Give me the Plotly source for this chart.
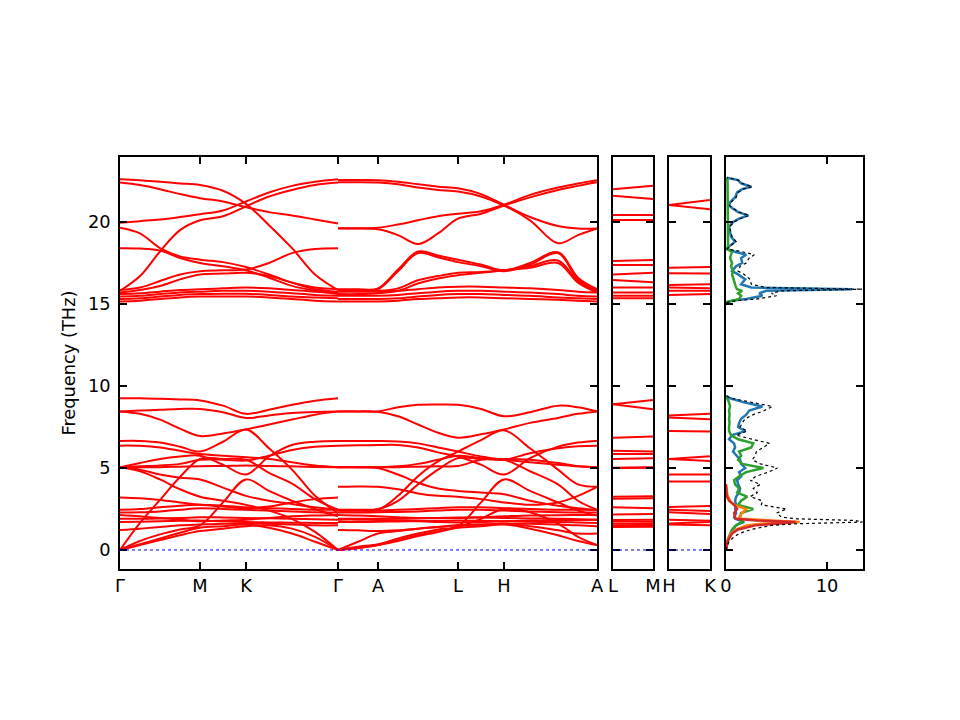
import plotly.graph_objects as go

# k-path nodes (distance along path)
k_gmkg = [0, 20, 40, 60, 80, 103, 126, 149, 172, 195, 218]
k_galha = [218, 238, 258, 278, 298, 318, 338, 361, 384, 410, 438, 458, 477]
k_lm = [0, 40]
k_hk = [0, 41]

main_ticks = [0, 80, 126, 218, 258, 338, 384, 477]
main_labels = ["Γ", "M", "K", "Γ", "A", "L", "H", "A"]

# bands along Γ-M-K-Γ (THz)
bands_gmkg = [
    [22.6, 22.55, 22.45, 22.35, 22.25, 21.9, 21.1, 19.8, 18.4, 16.8, 15.85],
    [22.4, 22.25, 22.0, 21.7, 21.45, 21.25, 20.9, 20.6, 20.4, 20.15, 19.9],
    [19.95, 20.05, 20.15, 20.3, 20.47, 20.7, 21.25, 21.8, 22.2, 22.45, 22.6],
    [19.65, 19.3, 18.4, 17.9, 17.7, 17.55, 17.25, 16.8, 16.3, 15.9, 15.75],
    [15.8, 16.7, 18.2, 19.5, 20.1, 20.35, 20.95, 21.55, 21.95, 22.25, 22.4],
    [18.4, 18.38, 18.25, 17.8, 17.5, 17.3, 17.05, 16.6, 16.1, 15.8, 15.6],
    [15.85, 16.0, 16.4, 16.8, 17.0, 17.05, 17.1, 17.5, 18.1, 18.35, 18.4],
    [15.7, 15.85, 16.1, 16.5, 16.8, 16.85, 16.9, 16.7, 16.3, 16.0, 15.9],
    [15.6, 15.65, 15.75, 15.85, 15.9, 15.95, 16.0, 15.95, 15.85, 15.75, 15.7],
    [15.45, 15.5, 15.6, 15.7, 15.75, 15.8, 15.8, 15.75, 15.65, 15.55, 15.5],
    [15.3, 15.35, 15.45, 15.55, 15.6, 15.62, 15.62, 15.55, 15.45, 15.4, 15.35],
    [15.15, 15.2, 15.3, 15.4, 15.45, 15.45, 15.45, 15.4, 15.3, 15.2, 15.15],
    [9.25, 9.25, 9.22, 9.18, 9.12, 8.8, 8.3, 8.55, 8.85, 9.1, 9.25],
    [8.45, 8.5, 8.55, 8.6, 8.6, 8.4, 8.05, 8.2, 8.35, 8.42, 8.45],
    [8.45, 8.3, 7.95, 7.4, 6.95, 7.1, 7.35, 7.65, 7.95, 8.25, 8.45],
    [6.65, 6.65, 6.55, 6.3, 6.0, 6.6, 7.35, 6.2, 4.9, 3.3, 2.25],
    [6.36, 6.35, 6.25, 6.05, 5.85, 5.75, 5.65, 5.55, 5.35, 5.15, 5.05],
    [5.05, 5.3, 5.55, 5.7, 5.75, 5.2, 4.6, 5.7, 6.4, 6.6, 6.65],
    [5.05, 5.1, 5.15, 5.25, 5.5, 5.5, 5.45, 5.75, 6.1, 6.3, 6.36],
    [5.05, 5.05, 5.05, 5.08, 5.1, 5.12, 5.15, 5.12, 5.1, 5.06, 5.04],
    [0.0, 1.65, 3.05, 4.45, 5.55, 5.55, 5.5, 4.7, 4.05, 3.1, 2.45],
    [0.0, 0.55, 0.95, 1.25, 1.5, 2.9, 4.3, 3.6, 3.0, 2.5, 2.05],
    [0.0, 0.35, 0.7, 1.05, 1.35, 1.45, 1.55, 1.35, 1.0, 0.5, 0.0],
    [0.0, 0.3, 0.6, 0.9, 1.15, 1.3, 1.45, 1.5, 1.3, 0.8, 0.0],
    [5.05, 4.8, 4.3, 3.7, 3.25, 3.0, 2.75, 2.4, 1.9, 1.1, 0.0],
    [3.2, 3.15, 3.05, 2.9, 2.75, 2.65, 2.55, 2.65, 2.9, 3.1, 3.2],
    [2.45, 2.5, 2.6, 2.7, 2.75, 2.7, 2.6, 2.55, 2.5, 2.45, 2.45],
    [2.28, 2.3, 2.35, 2.45, 2.55, 2.5, 2.45, 2.4, 2.35, 2.3, 2.28],
    [2.13, 2.05, 1.95, 1.85, 1.75, 1.8, 1.85, 1.95, 2.05, 2.1, 2.13],
    [1.9, 1.9, 1.92, 1.95, 2.0, 1.98, 1.95, 1.93, 1.9, 1.88, 1.85],
    [1.7, 1.72, 1.75, 1.78, 1.8, 1.75, 1.7, 1.68, 1.66, 1.65, 1.65],
    [1.22, 1.3, 1.4, 1.5, 1.55, 1.6, 1.62, 1.6, 1.55, 1.5, 1.5],
    [5.05, 4.9, 4.6, 4.4, 4.3, 3.8, 3.3, 3.0, 2.8, 2.6, 2.45],
]

# bands along Γ-A-L-H-A
bands_galha = [
    [22.56, 22.56, 22.55, 22.45, 22.3, 22.15, 22.05, 21.7, 21.05, 20.3, 19.75, 19.6, 19.6],
    [22.42, 22.42, 22.4, 22.3, 22.1, 21.95, 21.85, 21.55, 21.0, 20.1, 18.7, 19.2, 19.6],
    [19.62, 19.62, 19.65, 19.85, 20.1, 20.35, 20.5, 20.65, 21.05, 21.65, 22.1, 22.35, 22.55],
    [19.6, 19.6, 19.55, 19.2, 18.65, 19.3, 20.2, 20.5, 21.0, 21.5, 21.95, 22.2, 22.42],
    [15.9, 15.9, 15.95, 17.1, 18.2, 17.95, 17.7, 17.4, 17.05, 17.5, 18.15, 16.6, 15.9],
    [15.85, 15.85, 15.9, 17.0, 18.1, 17.85, 17.55, 17.3, 17.0, 17.4, 18.1, 16.5, 15.85],
    [15.8, 15.8, 15.8, 15.95, 16.45, 16.7, 16.9, 16.95, 17.05, 17.3, 17.65, 16.4, 15.75],
    [15.6, 15.6, 15.65, 15.8, 16.25, 16.55, 16.75, 16.9, 17.05, 17.2, 17.5, 16.3, 15.7],
    [15.75, 15.75, 15.75, 15.8, 15.9, 16.0, 16.05, 16.05, 16.0, 15.95, 15.85, 15.75, 15.7],
    [15.5, 15.5, 15.5, 15.55, 15.65, 15.75, 15.8, 15.8, 15.75, 15.7, 15.6, 15.5, 15.45],
    [15.3, 15.3, 15.3, 15.35, 15.45, 15.55, 15.6, 15.6, 15.55, 15.5, 15.4, 15.35, 15.3],
    [15.15, 15.15, 15.15, 15.2, 15.3, 15.35, 15.4, 15.4, 15.35, 15.3, 15.25, 15.2, 15.15],
    [8.45, 8.45, 8.45, 8.7, 8.85, 8.87, 8.85, 8.6, 8.15, 8.4, 8.8, 8.7, 8.45],
    [8.45, 8.45, 8.43, 8.15, 7.65, 7.15, 6.85, 7.05, 7.35, 7.75, 8.05, 8.3, 8.45],
    [2.4, 2.4, 2.45, 3.3, 4.5, 5.4, 6.0, 6.7, 7.3, 6.2, 4.9, 4.0, 3.85],
    [6.65, 6.65, 6.65, 6.62, 6.5, 6.25, 6.0, 5.7, 5.5, 5.35, 5.2, 5.1, 5.05],
    [6.36, 6.38, 6.4, 6.4, 6.25, 5.95, 5.7, 5.2, 4.6, 5.6, 6.3, 6.55, 6.65],
    [5.05, 5.05, 5.05, 5.1, 5.25, 5.5, 5.75, 5.6, 5.5, 5.9, 6.2, 6.33, 6.36],
    [5.05, 5.05, 5.05, 5.05, 5.08, 5.1, 5.12, 5.5, 5.55, 5.5, 5.3, 5.1, 5.04],
    [3.85, 3.87, 3.85, 3.7, 3.45, 3.3, 3.25, 3.1, 2.9, 2.75, 2.9, 3.3, 3.85],
    [5.05, 5.05, 5.0, 4.6, 4.1, 3.75, 3.6, 3.5, 3.4, 3.0, 2.7, 2.55, 2.45],
    [0.0, 0.2, 0.35, 0.7, 1.0, 1.25, 1.45, 2.9, 4.3, 3.6, 2.9, 2.4, 2.1],
    [0.0, 0.15, 0.3, 0.6, 0.9, 1.15, 1.35, 1.45, 1.55, 1.3, 0.9, 0.55, 0.3],
    [0.0, 0.5, 1.0, 1.15, 1.3, 1.4, 1.5, 1.55, 1.6, 1.45, 1.2, 1.0, 1.0],
    [2.4, 2.4, 2.4, 2.45, 2.5, 2.55, 2.6, 2.6, 2.55, 2.5, 2.45, 2.45, 2.44],
    [2.28, 2.28, 2.3, 2.32, 2.35, 2.4, 2.45, 2.45, 2.4, 2.35, 2.3, 2.28, 2.28],
    [2.13, 2.1, 2.05, 2.0, 1.95, 1.95, 1.95, 2.0, 2.05, 2.1, 2.12, 2.13, 2.13],
    [1.9, 1.9, 1.9, 1.9, 1.92, 1.95, 1.98, 1.98, 1.95, 1.92, 1.9, 1.88, 1.85],
    [1.7, 1.7, 1.72, 1.74, 1.76, 1.78, 1.8, 1.78, 1.75, 1.72, 1.7, 1.68, 1.65],
    [1.22, 1.2, 1.15, 1.2, 1.3, 1.4, 1.5, 1.55, 1.6, 1.6, 1.55, 1.5, 1.45],
    [2.45, 2.45, 2.5, 3.0, 4.0, 4.9, 5.6, 5.55, 5.5, 4.8, 4.0, 3.0, 2.45],
    [1.85, 1.85, 1.83, 1.8, 1.75, 1.7, 1.68, 1.7, 1.75, 1.8, 1.82, 1.83, 1.85],
    [0.0, 0.1, 0.3, 0.55, 0.85, 1.1, 1.4, 1.9, 2.5, 2.3, 1.6, 0.8, 0.3],
]

# L-M and H-K segments (start, end)
bands_lm = [
    [22.0, 22.2], [21.6, 21.4], [20.43, 20.43], [20.12, 20.12], [17.62, 17.68],
    [17.38, 17.38], [16.8, 16.9], [16.46, 16.32], [16.0, 16.0], [15.7, 15.7],
    [15.5, 15.5], [15.35, 15.35],
    [8.88, 9.15], [8.88, 8.58], [6.85, 6.92], [6.05, 6.0], [5.85, 5.85],
    [5.55, 5.6], [5.02, 5.05], [5.0, 5.02], [3.25, 3.28], [3.12, 3.15],
    [2.6, 2.55], [2.17, 2.2], [1.82, 1.85], [1.75, 1.72], [1.62, 1.6],
    [1.5, 1.52], [1.4, 1.42],
]
bands_hk = [
    [21.04, 21.34], [21.04, 20.77], [17.2, 17.25], [16.87, 16.85], [16.15, 16.2],
    [16.0, 15.95], [15.8, 15.8], [15.55, 15.6],
    [8.2, 8.3], [8.08, 7.97], [7.25, 7.22], [5.55, 5.72], [5.55, 5.42],
    [4.6, 4.6], [4.18, 4.18], [2.62, 2.68], [2.45, 2.38], [2.3, 2.2],
    [1.85, 1.78], [1.62, 1.7], [1.55, 1.5],
]

# phonon DOS, lower and upper frequency windows
dos_f_low = [0.0, 0.25, 0.5, 0.75, 1.0, 1.25, 1.5, 1.6, 1.7, 1.8, 1.9, 2.0, 2.25, 2.5,
             2.75, 3.0, 3.25, 3.5, 3.75, 4.0, 4.25, 4.5, 4.75, 5.0, 5.25, 5.5, 5.75,
             6.0, 6.25, 6.5, 6.75, 7.0, 7.25, 7.5, 7.75, 8.0, 8.25, 8.5, 8.75, 9.0,
             9.25, 9.4]
dos_total_low = [0.0, 0.1, 0.3, 0.7, 1.3, 2.5, 4.5, 7.0, 13.5, 12.8, 7.0, 5.5, 5.0, 6.0,
                 3.5, 3.6, 2.4, 3.1, 2.7, 3.4, 2.4, 3.0, 4.2, 5.1, 3.4, 2.6, 2.9,
                 3.0, 3.7, 4.3, 2.6, 1.0, 2.1, 1.4, 1.6, 1.9, 2.7, 3.8, 4.6, 2.6,
                 0.5, 0.0]
dos_blue_low = [0.0, 0.05, 0.15, 0.3, 0.45, 0.7, 1.0, 1.3, 1.8, 1.4, 0.9, 0.8, 1.0, 0.9,
                1.0, 0.9, 1.0, 1.3, 1.4, 1.2, 1.1, 1.5, 1.3, 1.9, 1.5, 1.4, 1.0,
                0.7, 0.9, 0.8, 0.3, 0.6, 1.9, 1.2, 1.3, 1.5, 2.0, 2.3, 3.6, 1.8,
                0.4, 0.0]
dos_green_low = [0.0, 0.03, 0.1, 0.25, 0.4, 0.6, 1.0, 1.3, 1.6, 1.5, 1.3, 1.4, 1.5, 2.7,
                 1.2, 1.5, 2.1, 1.1, 1.3, 0.9, 0.8, 1.3, 2.0, 3.7, 1.6, 1.2, 1.5,
                 1.3, 2.5, 2.7, 1.2, 0.5, 0.3, 0.3, 0.35, 0.3, 0.35, 0.3, 0.4, 0.3,
                 0.1, 0.0]
dos_f_acoustic = [0.0, 0.25, 0.5, 0.75, 1.0, 1.25, 1.5, 1.6, 1.7, 1.8, 1.9, 2.0, 2.25,
                  2.5, 2.75, 3.0, 3.25, 3.5, 3.75, 4.0]
dos_orange_low = [0.0, 0.05, 0.15, 0.3, 0.5, 1.0, 2.0, 3.5, 7.3, 4.5, 1.5, 1.3, 1.6,
                  2.0, 0.8, 0.4, 0.2, 0.1, 0.05, 0.0]
dos_red_low = [0.0, 0.05, 0.15, 0.35, 0.6, 1.2, 2.9, 5.0, 6.9, 3.0, 1.0, 0.9, 0.8,
               1.1, 0.8, 0.3, 0.1, 0.05, 0.0, 0.0]

dos_f_high = [15.1, 15.2, 15.3, 15.5, 15.65, 15.8, 15.9, 16.0, 16.2, 16.5, 16.8, 17.0,
              17.3, 17.5, 17.8, 18.0, 18.2, 18.35, 18.5, 18.8, 19.1, 19.4, 19.7, 20.0,
              20.2, 20.4, 20.6, 20.8, 21.0, 21.2, 21.5, 21.8, 22.0, 22.15, 22.35,
              22.55, 22.7]
dos_total_high = [0.05, 1.0, 3.0, 5.0, 4.5, 5.5, 13.5, 4.0, 2.5, 2.4, 1.8, 1.2,
                  1.4, 2.0, 2.3, 2.8, 1.5, 0.1, 0.35, 1.0, 0.6, 0.45, 0.35, 0.8,
                  1.4, 2.3, 1.3, 0.8, 0.35, 0.5, 1.0, 1.2, 1.7, 2.6, 1.6,
                  1.2, 0.1]
dos_blue_high = [0.05, 0.6, 2.0, 3.6, 3.3, 4.0, 12.5, 2.5, 1.5, 1.9, 1.2, 0.6,
                 1.0, 1.6, 1.5, 2.0, 0.8, 0.1, 0.3, 0.9, 0.5, 0.4, 0.3, 0.7,
                 1.3, 2.2, 1.2, 0.7, 0.3, 0.4, 0.9, 1.1, 1.6, 2.5, 1.5,
                 1.2, 0.1]
dos_green_high = [0.05, 0.8, 1.3, 1.5, 1.2, 1.6, 1.1, 1.0, 0.9, 0.7, 0.6, 0.7,
                  0.5, 0.6, 0.4, 0.5, 0.6, 0.05, 0.2, 0.2, 0.2, 0.2, 0.2, 0.2,
                  0.2, 0.2, 0.2, 0.2, 0.2, 0.2, 0.2, 0.2, 0.2, 0.2, 0.2,
                  0.15, 0.0]

FONT = "DejaVu Sans"
FSIZE = 17.8
RED = "#ff0000"
fig = go.Figure()

for band in bands_gmkg:
    fig.add_trace(go.Scatter(x=k_gmkg, y=band, mode="lines", line=dict(color=RED, width=2, shape="spline"),
                             xaxis="x", yaxis="y"))
for band in bands_galha:
    fig.add_trace(go.Scatter(x=k_galha, y=band, mode="lines", line=dict(color=RED, width=2, shape="spline"),
                             xaxis="x", yaxis="y"))
for band in bands_lm:
    fig.add_trace(go.Scatter(x=k_lm, y=band, mode="lines", line=dict(color=RED, width=2),
                             xaxis="x2", yaxis="y2"))
for band in bands_hk:
    fig.add_trace(go.Scatter(x=k_hk, y=band, mode="lines", line=dict(color=RED, width=2),
                             xaxis="x3", yaxis="y3"))

# DOS curves
pdos = [
    (dos_f_low, dos_blue_low, "#1f77b4"),
    (dos_f_high, dos_blue_high, "#1f77b4"),
    (dos_f_low, dos_green_low, "#2ca02c"),
    (dos_f_high, dos_green_high, "#2ca02c"),
    (dos_f_acoustic, dos_orange_low, "#ff7f0e"),
    (dos_f_acoustic, dos_red_low, "#d62728"),
]
for f, d, c in pdos:
    fig.add_trace(go.Scatter(x=d, y=f, mode="lines", line=dict(color=c, width=2.5),
                             xaxis="x4", yaxis="y4"))
for f, d in [(dos_f_low, dos_total_low), (dos_f_high, dos_total_high)]:
    fig.add_trace(go.Scatter(x=d, y=f, mode="lines", line=dict(color="black", width=1.2, dash="dot"),
                             xaxis="x4", yaxis="y4"))

yrange = [-1.16, 23.96]
ydom = [151 / 720, 563 / 720]
axis_common = dict(showline=True, linecolor="black", linewidth=1.8, mirror="ticks",
                   ticks="inside", ticklen=7, tickwidth=1.8, tickcolor="black",
                   showgrid=False, zeroline=False, automargin=False,
                   tickfont=dict(family=FONT, size=FSIZE, color="black"))

def yax(show_labels):
    d = dict(axis_common, range=yrange, domain=ydom, tickvals=[0, 5, 10, 15, 20],
             showticklabels=show_labels)
    return d

layout = dict(
    width=960, height=720, margin=dict(l=0, r=0, t=0, b=0, autoexpand=False),
    paper_bgcolor="white", plot_bgcolor="white", showlegend=False,
    font=dict(family=FONT, size=FSIZE, color="black"),
    xaxis=dict(axis_common, domain=[120 / 960, 597 / 960], range=[0, 477],
               tickvals=main_ticks, ticktext=main_labels, anchor="y"),
    xaxis2=dict(axis_common, domain=[613 / 960, 653 / 960], range=[0, 40],
                tickvals=[0, 40], ticktext=["L", "M"], anchor="y2"),
    xaxis3=dict(axis_common, domain=[669 / 960, 710 / 960], range=[0, 41],
                tickvals=[0, 41], ticktext=["H", "K"], anchor="y3"),
    xaxis4=dict(axis_common, domain=[726 / 960, 863 / 960], range=[0, 13.56],
                tickvals=[0, 10], anchor="y4"),
    yaxis=dict(yax(True), anchor="x", ticklabelstandoff=4,
               title=dict(text="Frequency (THz)", standoff=8,
                          font=dict(family=FONT, size=FSIZE, color="black"))),
    yaxis2=dict(yax(False), anchor="x2"),
    yaxis3=dict(yax(False), anchor="x3"),
    yaxis4=dict(yax(False), anchor="x4"),
)
fig.update_layout(**layout)

# zero-frequency guide lines
for xr, yr in [("x", "y"), ("x2", "y2"), ("x3", "y3")]:
    fig.add_shape(type="line", xref=xr + " domain", x0=0, x1=1, yref=yr, y0=0, y1=0,
                  line=dict(color="blue", width=1, dash="dot"))

fig.write_html("out.html", config={"displayModeBar": False},
               post_script="document.body.style.margin='0';")
